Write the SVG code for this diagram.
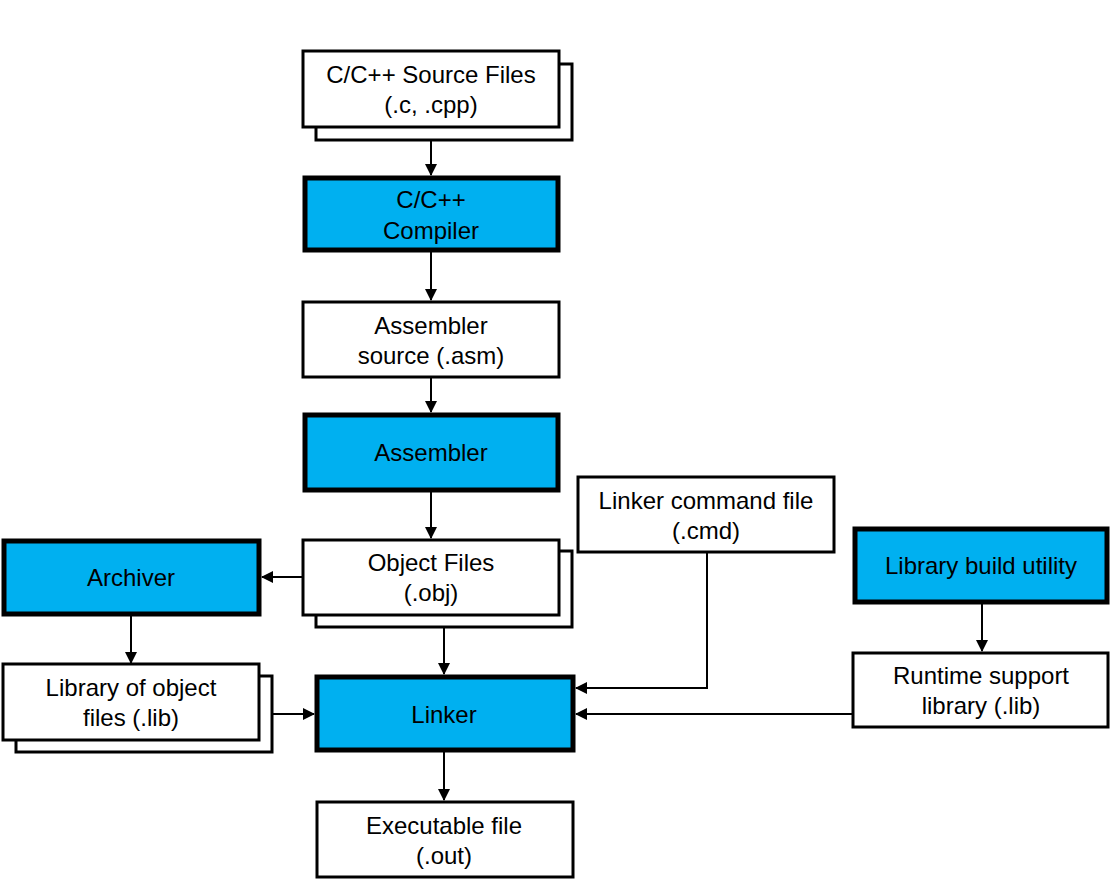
<svg xmlns="http://www.w3.org/2000/svg" width="1110" height="880" viewBox="0 0 1110 880">
<defs>
<style>
.doc{fill:#fff;stroke:#000;stroke-width:3}
.tool{fill:#00B0F0;stroke:#000;stroke-width:5}
.t{font-family:"Liberation Sans",Arial,sans-serif;font-size:24px;fill:#000;text-anchor:middle}
.c{fill:none;stroke:#000;stroke-width:2}
</style>
<marker id="ah" markerWidth="12" markerHeight="12" refX="11" refY="6" orient="auto" markerUnits="userSpaceOnUse">
<path d="M0,0 L12,6 L0,12 z" fill="#000"/>
</marker>
</defs>
<rect width="1110" height="880" fill="#fff"/>
<g id="connectors">
<line class="c" x1="431" y1="128" x2="431" y2="175" marker-end="url(#ah)"/>
<line class="c" x1="431" y1="252" x2="431" y2="300" marker-end="url(#ah)"/>
<line class="c" x1="431" y1="378" x2="431" y2="412" marker-end="url(#ah)"/>
<line class="c" x1="431" y1="492" x2="431" y2="538" marker-end="url(#ah)"/>
<line class="c" x1="303" y1="577" x2="262" y2="577" marker-end="url(#ah)"/>
<line class="c" x1="131" y1="616" x2="131" y2="663" marker-end="url(#ah)"/>
<line class="c" x1="272" y1="714" x2="314" y2="714" marker-end="url(#ah)"/>
<line class="c" x1="444" y1="628" x2="444" y2="674" marker-end="url(#ah)"/>
<polyline class="c" points="707,553 707,688 576,688" marker-end="url(#ah)"/>
<line class="c" x1="852" y1="714" x2="576" y2="714" marker-end="url(#ah)"/>
<line class="c" x1="982" y1="604" x2="982" y2="651" marker-end="url(#ah)"/>
<line class="c" x1="444" y1="752" x2="444" y2="800" marker-end="url(#ah)"/>
</g>
<g id="source">
<rect class="doc" x="316" y="64" width="256" height="76"/>
<rect class="doc" x="303" y="51" width="256" height="76"/>
<text class="t" x="431" y="83">C/C++ Source Files</text>
<text class="t" x="431" y="113">(.c, .cpp)</text>
</g>
<g id="compiler">
<rect class="tool" x="305" y="178" width="253" height="72"/>
<text class="t" x="431" y="208">C/C++</text>
<text class="t" x="431" y="239">Compiler</text>
</g>
<g id="asmsource">
<rect class="doc" x="303" y="302" width="256" height="75"/>
<text class="t" x="431" y="334">Assembler</text>
<text class="t" x="431" y="364">source (.asm)</text>
</g>
<g id="assembler">
<rect class="tool" x="305" y="415" width="253" height="75"/>
<text class="t" x="431" y="461">Assembler</text>
</g>
<g id="objfiles">
<rect class="doc" x="316" y="551" width="256" height="76"/>
<rect class="doc" x="303" y="540" width="256" height="75"/>
<text class="t" x="431" y="571">Object Files</text>
<text class="t" x="431" y="601">(.obj)</text>
</g>
<g id="archiver">
<rect class="tool" x="4" y="541" width="255" height="73"/>
<text class="t" x="131" y="586">Archiver</text>
</g>
<g id="libobj">
<rect class="doc" x="16" y="676" width="256" height="76"/>
<rect class="doc" x="3" y="664" width="256" height="76"/>
<text class="t" x="131" y="696">Library of object</text>
<text class="t" x="131" y="726">files (.lib)</text>
</g>
<g id="linker">
<rect class="tool" x="317" y="677" width="256" height="73"/>
<text class="t" x="444" y="723">Linker</text>
</g>
<g id="executable">
<rect class="doc" x="317" y="802" width="256" height="75"/>
<text class="t" x="444" y="834">Executable file</text>
<text class="t" x="444" y="864">(.out)</text>
</g>
<g id="cmdfile">
<rect class="doc" x="578" y="477" width="256" height="75"/>
<text class="t" x="706" y="509">Linker command file</text>
<text class="t" x="706" y="539">(.cmd)</text>
</g>
<g id="libbuild">
<rect class="tool" x="855" y="529" width="252" height="73"/>
<text class="t" x="981" y="574">Library build utility</text>
</g>
<g id="runtime">
<rect class="doc" x="853" y="653" width="255" height="74"/>
<text class="t" x="981" y="684">Runtime support</text>
<text class="t" x="981" y="714">library (.lib)</text>
</g>
</svg>
